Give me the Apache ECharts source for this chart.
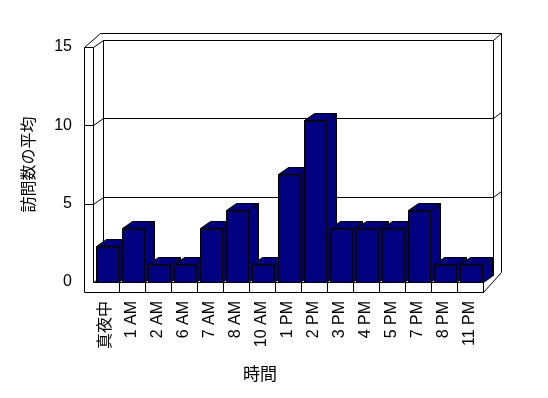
<!DOCTYPE html>
<html>
<head>
<meta charset="utf-8">
<script src="https://cdn.jsdelivr.net/npm/echarts@6/dist/echarts.min.js"></script>
<style>
  html, body { margin: 0; padding: 0; background: #fff; }
  #chart { width: 548px; height: 398px; }
</style>
</head>
<body>
<div id="chart"></div>
<script>
// 時間帯ごとの訪問数の平均
const categories = ['真夜中', '1 AM', '2 AM', '6 AM', '7 AM', '8 AM', '10 AM', '1 PM', '2 PM', '3 PM', '4 PM', '5 PM', '7 PM', '8 PM', '11 PM'];
const visits = [2.3, 3.45, 1.15, 1.15, 3.45, 4.6, 1.15, 6.9, 10.35, 3.45, 3.45, 3.45, 4.6, 1.15, 1.15];
const yTicks = [0, 5, 10, 15];

const FONT = "'Liberation Sans', 'Noto Sans CJK JP', sans-serif";
const DX = 10, DY = -7;     // 奥行き
const SLAB = 9, FLOOR = 10; // 壁・床の厚み

let chart = echarts.init(document.getElementById('chart'));

function px(v) {
    return Math.round(v) + 0.5;
}

function line(pts) {
    return {
        type: 'polyline',
        shape: { points: pts.map(p => [px(p[0]), px(p[1])]) },
        style: { stroke: '#000', lineWidth: 1, fill: null },
        silent: true
    };
}

// 背面の壁・床・目盛線
function renderFrame(params, api) {
    const cs = params.coordSys;
    const L = cs.x, R = cs.x + cs.width;
    const yMax = yTicks[yTicks.length - 1];
    const B = api.coord([0, 0])[1];
    const T = api.coord([0, yMax])[1];
    const band = api.size([1, 0])[0];
    const children = [];

    // 外枠
    children.push(line([[L - SLAB, T], [L - SLAB + 16, T - 14], [R + DX + 8, T - 14],
        [R + DX + 8, B + DY - 3], [R, B + FLOOR]]));
    children.push(line([[R + DX + 8, T - 14], [R + DX, T + DY]]));

    // 背面の壁
    children.push(line([[L + DX, T + DY], [L + DX, B + DY]]));
    children.push(line([[R + DX, T + DY], [R + DX, B + DY]]));

    // 目盛線
    yTicks.forEach(v => {
        const y = api.coord([0, v])[1];
        children.push(line([[L, y], [L + DX, y + DY], [R + DX, y + DY]]));
        if (v > 0 && v < yMax) {
            children.push(line([[R + DX, y + DY], [R + DX + 8, y + DY - 6]]));
            children.push(line([[L - SLAB, y], [L, y]]));
        }
    });
    children.push(line([[R, B], [R + DX, B + DY]]));

    // 左の壁
    children.push(line([[L - SLAB, T], [L - SLAB, B + FLOOR]]));
    children.push(line([[L, T], [L, B]]));
    children.push(line([[L - SLAB, T], [L, T]]));

    // 床
    children.push(line([[L, B], [R, B]]));
    children.push(line([[L - SLAB, B + FLOOR], [R, B + FLOOR]]));
    children.push(line([[R, B], [R, B + FLOOR]]));
    for (let k = 1; k < categories.length; k++) {
        const x = L + k * band;
        children.push(line([[x, B], [x, B + FLOOR]]));
    }
    return { type: 'group', children: children };
}

// 3D風の棒
function renderBar(params, api) {
    const band = api.size([1, 0])[0];
    const top = api.coord([api.value(0), api.value(1)]);
    const base = api.coord([api.value(0), 0]);
    const x0 = Math.round(top[0] - band * 0.37) + 0.5;
    const x1 = Math.round(x0 + band * 0.82) + 0.5;
    const yt = Math.round(top[1]) + 0.5;
    const yb = Math.round(base[1]) + 0.5;
    const style = { fill: '#000080', stroke: '#000', lineWidth: 1 };
    return {
        type: 'group',
        children: [
            {
                type: 'polygon',
                shape: { points: [[x1, yt], [x1 + DX, yt + DY], [x1 + DX, yb + DY], [x1, yb]] },
                style: style
            },
            {
                type: 'polygon',
                shape: { points: [[x0, yt], [x1, yt], [x1 + DX, yt + DY], [x0 + DX, yt + DY]] },
                style: style
            },
            {
                type: 'rect',
                shape: { x: x0, y: yt, width: x1 - x0, height: yb - yt },
                style: style
            }
        ]
    };
}

const option = {
    backgroundColor: '#fff',
    animation: false,
    grid: {
        left: 93,
        right: 65,
        top: 47,
        bottom: 116
    },
    xAxis: {
        type: 'category',
        data: categories,
        axisLine: { show: false },
        axisTick: { show: false },
        axisLabel: {
            interval: 0,
            rotate: 90,
            margin: 19,
            fontSize: 16,
            color: '#000',
            fontFamily: FONT
        },
        name: '時間',
        nameLocation: 'middle',
        nameGap: 85,
        nameTextStyle: {
            fontSize: 17,
            color: '#000',
            fontFamily: FONT,
            padding: [0, 56, 0, 0]
        }
    },
    yAxis: {
        type: 'value',
        min: 0,
        max: 15,
        interval: 5,
        axisLine: { show: false },
        axisTick: { show: false },
        splitLine: { show: false },
        axisLabel: {
            margin: 21,
            fontSize: 16,
            color: '#000',
            fontFamily: FONT
        },
        name: '訪問数の平均',
        nameLocation: 'middle',
        nameGap: 55,
        nameTextStyle: {
            fontSize: 16,
            color: '#000',
            fontFamily: FONT
        }
    },
    series: [
        {
            type: 'custom',
            renderItem: renderFrame,
            data: [[0, 0]],
            z: 1,
            silent: true
        },
        {
            type: 'custom',
            renderItem: renderBar,
            data: visits.map((v, i) => [i, v]),
            z: 2
        }
    ]
};

chart.setOption(option);
</script>
</body>
</html>
